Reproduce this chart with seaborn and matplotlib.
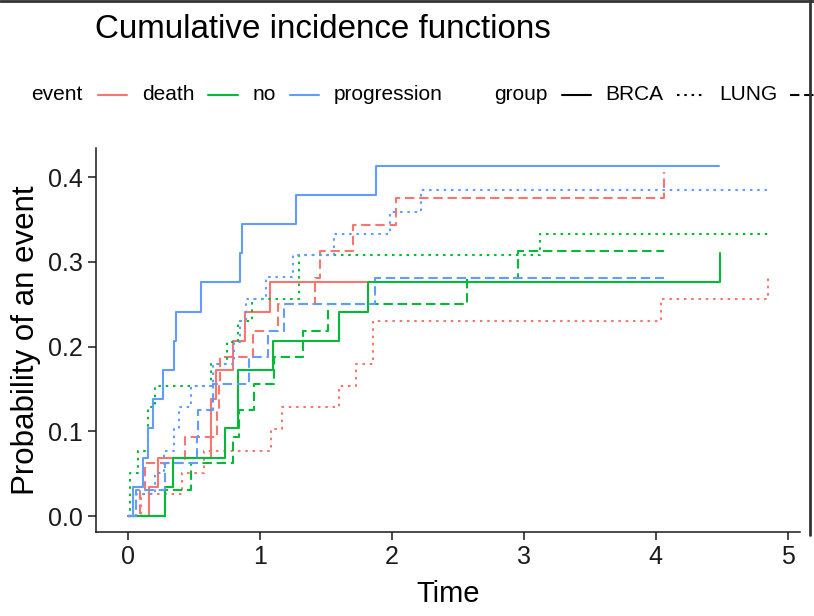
import numpy as np
import pandas as pd
import matplotlib
matplotlib.use("Agg")
import matplotlib.pyplot as plt
from matplotlib.lines import Line2D
import seaborn as sns

# ---------------- data ----------------
events = ["death", "no", "progression"]
groups = ["BRCA", "LUNG", "OTHER"]
event_colors = ["#F8766D", "#00BA38", "#619CFF"]

# BRCA
brca_prog_t = [0.039, 0.115, 0.152, 0.19, 0.271, 0.347, 0.367, 0.556, 0.851, 0.864, 1.275, 1.88]
brca_prog_v = [0.0345, 0.069, 0.1034, 0.1379, 0.1724, 0.2069, 0.2414, 0.2759, 0.3103, 0.3448, 0.3793, 0.4138]
brca_prog_end = 4.48
brca_death_t = [0.16, 0.233, 0.632, 0.669, 0.80, 0.889, 1.078]
brca_death_v = [0.0345, 0.069, 0.1379, 0.1724, 0.2069, 0.2414, 0.2759]
brca_death_end = 1.82
brca_no_t = [0.279, 0.342, 0.74, 0.838, 1.098, 1.602, 1.82, 4.49]
brca_no_v = [0.0345, 0.069, 0.1034, 0.1724, 0.2069, 0.2414, 0.2759, 0.3103]
brca_no_end = 4.49

# LUNG
lung_death_t = [0.102, 0.41, 0.581, 1.085, 1.169, 1.602, 1.733, 1.86, 4.04, 4.85]
lung_death_v = [0.0256, 0.0513, 0.0769, 0.1026, 0.1282, 0.1538, 0.1795, 0.2308, 0.2564, 0.2821]
lung_death_end = 4.85
lung_no_t = [0.014, 0.077, 0.152, 0.203, 0.632, 0.753, 0.838, 0.942, 1.295, 3.12]
lung_no_v = [0.0513, 0.0769, 0.1282, 0.1538, 0.1795, 0.2051, 0.2308, 0.2564, 0.3077, 0.3333]
lung_no_end = 4.85
lung_prog_t = [0.064, 0.203, 0.278, 0.354, 0.392, 0.48, 0.644, 0.808, 0.85, 0.896, 1.048, 1.249, 1.565, 1.99, 2.22]
lung_prog_v = [0.0256, 0.0513, 0.0769, 0.1026, 0.1282, 0.1538, 0.1795, 0.2051, 0.2308, 0.2564,
               0.2821, 0.3077, 0.3333, 0.3590, 0.3846]
lung_prog_end = 4.85

# OTHER
other_death_t = [0.095, 0.133, 0.437, 0.68, 0.69, 0.70, 0.947, 1.14, 1.42, 1.456, 1.71, 2.036, 4.06]
other_death_v = [0.03125, 0.0625, 0.09375, 0.125, 0.15625, 0.1875, 0.21875, 0.25, 0.28125, 0.3125,
                 0.34375, 0.375, 0.40625]
other_death_end = 4.06
other_no_t = [0.28, 0.48, 0.80, 0.845, 0.959, 1.106, 1.325, 1.514, 2.57, 2.96]
other_no_v = [0.03125, 0.0625, 0.09375, 0.125, 0.15625, 0.1875, 0.21875, 0.25, 0.28125, 0.3125]
other_no_end = 4.06
other_prog_t = [0.064, 0.28, 0.526, 0.53, 0.644, 0.92, 1.06, 1.186, 1.87]
other_prog_v = [0.03125, 0.0625, 0.09375, 0.125, 0.15625, 0.1875, 0.21875, 0.25, 0.28125]
other_prog_end = 4.06

curves = [
    ("BRCA", "death", brca_death_t, brca_death_v, brca_death_end),
    ("BRCA", "no", brca_no_t, brca_no_v, brca_no_end),
    ("BRCA", "progression", brca_prog_t, brca_prog_v, brca_prog_end),
    ("LUNG", "death", lung_death_t, lung_death_v, lung_death_end),
    ("LUNG", "no", lung_no_t, lung_no_v, lung_no_end),
    ("LUNG", "progression", lung_prog_t, lung_prog_v, lung_prog_end),
    ("OTHER", "death", other_death_t, other_death_v, other_death_end),
    ("OTHER", "no", other_no_t, other_no_v, other_no_end),
    ("OTHER", "progression", other_prog_t, other_prog_v, other_prog_end),
]

rows = []
for g, e, ts, vs, end in curves:
    cid = f"{g} {e}"
    rows.append((cid, g, e, 0.0, 0.0))
    for t, v in zip(ts, vs):
        rows.append((cid, g, e, t, v))
    if end > ts[-1]:
        rows.append((cid, g, e, end, vs[-1]))
df = pd.DataFrame(rows, columns=["curve", "group", "event", "time", "est"])

# ---------------- plot ----------------
sns.set_theme(style="ticks")
plt.rcParams["font.family"] = ["Liberation Sans", "DejaVu Sans"]

W, H = 814, 616
fig = plt.figure(figsize=(W / 100, H / 100), dpi=100)
ax = fig.add_axes([95.7 / W, 1 - 531.7 / H, (800 - 95.7) / W, (531.7 - 148) / H])

dash_map = {"BRCA": "", "LUNG": (1.2, 2.3), "OTHER": (4.5, 2.3)}
sns.lineplot(data=df, x="time", y="est", hue="event", style="group", units="curve",
             estimator=None, sort=False, hue_order=events, style_order=groups,
             palette=event_colors, dashes=dash_map, drawstyle="steps-post",
             linewidth=1.5, legend=False, ax=ax)

ax.set_xlim(-0.2425, 5.0925)
ax.set_ylim(-0.0185, 0.4345)
ax.set_xticks([0, 1, 2, 3, 4, 5])
ax.set_yticks([0.0, 0.1, 0.2, 0.3, 0.4])
ax.set_yticklabels(["0.0", "0.1", "0.2", "0.3", "0.4"])
for s in ["top", "right"]:
    ax.spines[s].set_visible(False)
for s in ["left", "bottom"]:
    ax.spines[s].set_color("#1a1a1a")
    ax.spines[s].set_linewidth(1.1)
ax.tick_params(axis="both", direction="out", length=5.5, width=1.1, color="#1a1a1a",
               labelsize=18, labelcolor="#1a1a1a", pad=4)
ax.set_xlabel("Time", fontsize=21, labelpad=8, color="black")
ax.set_ylabel("Probability of an event", fontsize=22.5, labelpad=5, color="black")
ax.grid(False)

fig.text(95 / W, 1 - 30 / H, "Cumulative incidence functions", fontsize=23.9,
         ha="left", va="center", color="black")

# legend row (ggplot style, clipped at the right edge as in the reference)
ly = 1 - 95 / H
leg_fs = 15
def key(x0, x1, color, ls="-"):
    fig.add_artist(Line2D([x0 / W, x1 / W], [ly, ly], transform=fig.transFigure,
                          color=color, lw=1.5, linestyle=ls))
def lab(x, s):
    fig.text(x / W, ly, s, fontsize=leg_fs, ha="left", va="center", color="black")

lab(31, "event")
ev_keys = [(97.6, 127.2, 142.5), (207.7, 237.8, 253), (289.7, 319.3, 333.5)]
for (k0, k1, tx), e, c in zip(ev_keys, events, event_colors):
    key(k0, k1, c)
    lab(tx, e)
lab(494.5, "group")
gr_keys = [(562, 591, 605), (676.5, 703.5, 719)]
for (k0, k1, tx), g in zip(gr_keys, groups[:2]):
    ls = "-" if dash_map[g] == "" else (0, dash_map[g])
    key(k0, k1, "black", ls)
    lab(tx, g)
key(790, 820, "black", (0, dash_map["OTHER"]))

# screenshot border
fig.add_artist(Line2D([0, 1], [1 - 1 / H, 1 - 1 / H], transform=fig.transFigure, color="#333333", lw=2))
fig.add_artist(Line2D([1 - 4 / W, 1 - 4 / W], [1 - 535 / H, 1.0], transform=fig.transFigure,
                      color="#333333", lw=2))

fig.savefig("out.png", dpi=100)
